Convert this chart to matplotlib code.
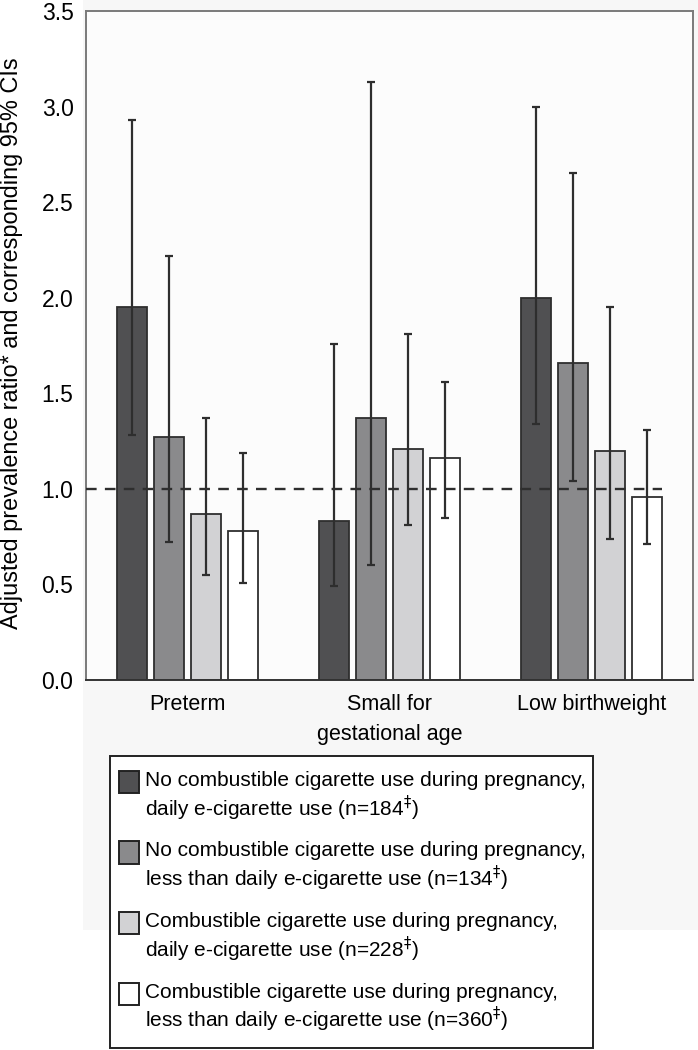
import matplotlib
matplotlib.use("Agg")
import matplotlib.pyplot as plt
from matplotlib.patches import Rectangle
import numpy as np

plt.rcParams['font.family'] = ['Liberation Sans', 'DejaVu Sans']

categories = ["Preterm", "Small for\ngestational age", "Low birthweight"]
series_labels = [
    "No combustible cigarette use during pregnancy,\ndaily e-cigarette use (n=184$^{\u2021}$)",
    "No combustible cigarette use during pregnancy,\nless than daily e-cigarette use (n=134$^{\u2021}$)",
    "Combustible cigarette use during pregnancy,\ndaily e-cigarette use (n=228$^{\u2021}$)",
    "Combustible cigarette use during pregnancy,\nless than daily e-cigarette use (n=360$^{\u2021}$)",
]
# prevalence ratios per series (Preterm, SGA, LBW)
pr_daily_nocomb = [1.95, 0.83, 2.00]
pr_less_nocomb = [1.27, 1.37, 1.66]
pr_daily_comb = [0.87, 1.21, 1.20]
pr_less_comb = [0.78, 1.16, 0.96]
# 95% CI lower / upper
ci_low = [[1.28, 0.49, 1.34],
          [0.72, 0.60, 1.04],
          [0.55, 0.81, 0.74],
          [0.51, 0.85, 0.71]]
ci_high = [[2.93, 1.76, 3.00],
           [2.22, 3.13, 2.65],
           [1.37, 1.81, 1.95],
           [1.19, 1.56, 1.31]]
yticks = [0.0, 0.5, 1.0, 1.5, 2.0, 2.5, 3.0, 3.5]
ref_value = 1.0

values = [pr_daily_nocomb, pr_less_nocomb, pr_daily_comb, pr_less_comb]
colors = ["#505052", "#8a8a8c", "#d2d2d4", "#ffffff"]

W, H = 698, 1050
fig = plt.figure(figsize=(W / 100, H / 100), dpi=100)

def fx(px):
    return px / W

def fy(py):
    return 1 - py / H

# faint grey backdrop behind the chart panel
fig.patches.append(Rectangle((fx(83), fy(930)), fx(698) - fx(83), fy(0) - fy(930),
                             transform=fig.transFigure, facecolor="#f7f7f7",
                             edgecolor="none", zorder=-5))

ax = fig.add_axes([fx(86), fy(680), (693 - 86) / W, (680 - 11) / H])
ax.set_zorder(1)
ax.set_facecolor("#fcfcfc")

x = np.arange(len(categories))
step = 0.183
width = 0.148
for i, (vals, col) in enumerate(zip(values, colors)):
    pos = x + (i - 1.5) * step
    v = np.array(vals)
    lo = v - np.array(ci_low[i])
    hi = np.array(ci_high[i]) - v
    ax.bar(pos, v, width=width, color=col, edgecolor="#2e2e2e", linewidth=1.3, zorder=2)
    ax.errorbar(pos, v, yerr=[lo, hi], fmt="none", ecolor="#2e2e2e", elinewidth=1.6,
                capsize=3, capthick=1.6, zorder=3)

last_right = x[-1] + 1.5 * step + width / 2
ax.plot([-0.5, last_right], [ref_value, ref_value], linestyle=(0, (4.5, 3.5)),
        color="#2e2e2e", linewidth=1.7, zorder=4)

ax.set_xlim(-0.5, 2.5)
ax.set_ylim(0, 3.5)
ax.set_yticks(yticks)
ax.set_yticklabels([f"{t:.1f}" for t in yticks], fontsize=16.5)
ax.set_xticks(x)
ax.set_xticklabels(categories, fontsize=15.5, linespacing=1.6)
ax.tick_params(axis="y", length=0, pad=9)
ax.tick_params(axis="x", length=0, pad=10)
for s in ["top", "right", "left"]:
    ax.spines[s].set_color("#7a7a7a")
    ax.spines[s].set_linewidth(1.4)
ax.spines["bottom"].set_color("#333333")
ax.spines["bottom"].set_linewidth(1.4)

# y-axis title, sized to span the same length as in the original
ylab = fig.text(fx(1), fy(343.5), "Adjusted prevalence ratio* and corresponding 95% CIs",
                rotation=90, rotation_mode="anchor", ha="center", va="top",
                fontsize=16, transform=fig.transFigure)
fig.canvas.draw()
ext = ylab.get_window_extent()
ylab.set_fontsize(16 * 573.0 / ext.height)

# legend box drawn by hand
fig.patches.append(Rectangle((fx(110), fy(1048)), fx(593) - fx(110), fy(756) - fy(1048),
                             transform=fig.transFigure, facecolor="white",
                             edgecolor="#222222", linewidth=1.4, zorder=2))
first_line = 782
entry_gap = 70.5
for i, (lab, col) in enumerate(zip(series_labels, colors)):
    yc = first_line + i * entry_gap
    fig.patches.append(Rectangle((fx(119), fy(yc + 11)), fx(139) - fx(119), fy(yc - 11) - fy(yc + 11),
                                 transform=fig.transFigure, facecolor=col,
                                 edgecolor="#222222", linewidth=1.4, zorder=3))
    fig.text(fx(145), fy(yc - 11), lab, fontsize=15, ha="left", va="top",
             linespacing=1.15, zorder=4, transform=fig.transFigure)

fig.savefig("out.png", dpi=100)
